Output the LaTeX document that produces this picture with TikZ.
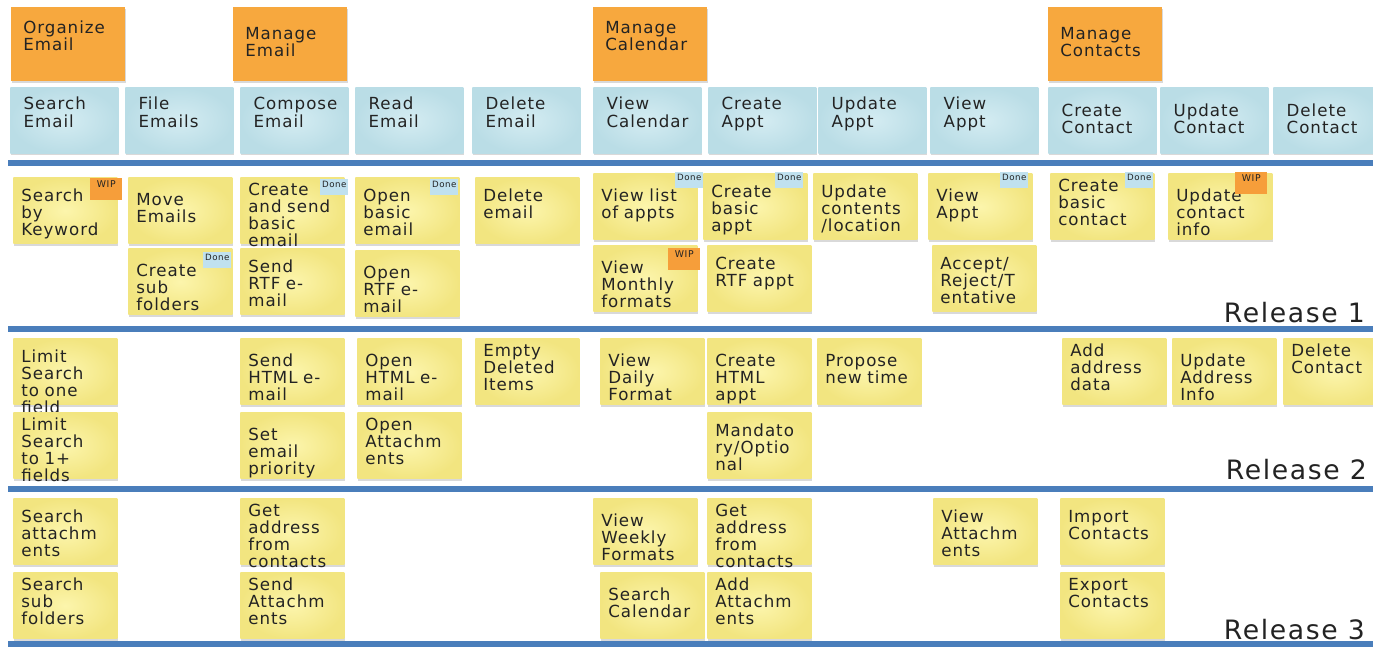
\documentclass[tikz,border=0pt]{standalone}
\usepackage{fontspec}
\usepackage{xcolor}
\usepackage{tikz}
\usetikzlibrary{shadows}
\setmainfont{DejaVu Sans}[LetterSpace=6]
\definecolor{ink}{RGB}{35,35,35}
\definecolor{notelight}{RGB}{252,245,172}
\definecolor{notedark}{RGB}{242,229,128}
\definecolor{tasklight}{RGB}{212,236,242}
\definecolor{taskdark}{RGB}{186,221,230}
\definecolor{activity}{RGB}{247,168,62}
\definecolor{donefill}{RGB}{192,225,239}
\definecolor{wipfill}{RGB}{246,158,58}
\definecolor{lineblue}{RGB}{74,126,187}
\hyphenpenalty=10000
\exhyphenpenalty=10000

\begin{document}
\begin{tikzpicture}[x=0.75pt,y=0.75pt,yscale=-1,xscale=1,
  sticky/.style={anchor=north west, align=left, inner ysep=5pt, text=ink,
    font=\fontsize{12.5}{12.8}\selectfont,
    drop shadow={shadow xshift=0.4pt, shadow yshift=-1.6pt, opacity=0.3}},
  ynote/.style={sticky, inner color=notelight, outer color=notedark,
    inner xsep=6pt, text width=66pt, text height=13pt, text depth=27pt},
  ylow/.style={text height=16pt, text depth=24pt},
  yhigh/.style={text height=8.5pt, text depth=31.5pt},
  tnote/.style={sticky, inner color=tasklight, outer color=taskdark,
    inner xsep=10pt, text width=61pt, text height=12pt, text depth=27.5pt},
  tlow/.style={text height=17pt, text depth=22.5pt},
  anote/.style={sticky, fill=activity, inner xsep=9pt, text width=67.5pt,
    text height=14.5pt, text depth=30.5pt},
  alow/.style={text height=19pt, text depth=26pt},
  donetag/.style={anchor=north west, fill=donefill, text=ink, inner sep=1.2pt,
    minimum width=21pt, text height=5pt, text depth=4.6pt,
    font=\fontsize{6.5}{6.5}\selectfont},
  wiptag/.style={anchor=north west, fill=wipfill, text=ink, inner sep=1.2pt,
    minimum width=24pt, text height=5.5pt, text depth=8.1pt,
    font=\fontsize{7}{7}\selectfont},
  rline/.style={draw=lineblue, line width=4.5pt},
  rlabel/.style={anchor=east, inner sep=0pt, text=ink,
    font=\fontsize{20}{20}\selectfont}]
\useasboundingbox (0,0) rectangle (1373,647);

%Activities
\node[anote] (a1) at (11,7) {Organize\\Email};
\node[anote, alow] (a2) at (233,7) {Manage\\Email};
\node[anote] (a3) at (593,7) {Manage\\Calendar};
\node[anote, alow] (a4) at (1048,7) {Manage\\Contacts};

%Tasks
\node[tnote] (t1) at (10,87) {Search\\Email};
\node[tnote] (t2) at (125,87) {File\\Emails};
\node[tnote] (t3) at (240,87) {Compose\\Email};
\node[tnote] (t4) at (355,87) {Read\\Email};
\node[tnote] (t5) at (472,87) {Delete\\Email};
\node[tnote] (t6) at (593,87) {View\\Calendar};
\node[tnote] (t7) at (708,87) {Create\\Appt};
\node[tnote] (t8) at (818,87) {Update\\Appt};
\node[tnote] (t9) at (930,87) {View\\Appt};
\node[tnote, tlow] (t10) at (1048,87) {Create\\Contact};
\node[tnote, tlow] (t11) at (1160,87) {Update\\Contact};
\node[tnote, tlow] (t12) at (1273,87) {Delete\\Contact};

%Release lines
\draw[rline] (8,163) -- (1373,163);
\draw[rline] (8,329) -- (1373,329);
\draw[rline] (8,489) -- (1373,489);
\draw[rline] (8,644) -- (1373,644);

%Release 1
\node[ynote] (r1c1a) at (13,177) {Search\\by\\Keyword};
\node[ynote, ylow] (r1c2a) at (128,177) {Move\\Emails};
\node[ynote, ylow] (r1c2b) at (128,248) {Create\\sub\\folders};
\node[ynote, yhigh] (r1c3a) at (240,177) {Create\\and~send\\basic\\email};
\node[ynote] (r1c3b) at (240,248) {Send\\RTF~e-\\mail};
\node[ynote] (r1c4a) at (355,177) {Open\\basic\\email};
\node[ynote, ylow] (r1c4b) at (355,250) {Open\\RTF~e-\\mail};
\node[ynote] (r1c5a) at (475,177) {Delete\\email};
\node[ynote, ylow] (r1c6a) at (593,173) {View~list\\of~appts};
\node[ynote, ylow] (r1c6b) at (593,245) {View\\Monthly\\formats};
\node[ynote] (r1c7a) at (703,173) {Create\\basic\\appt};
\node[ynote] (r1c7b) at (707,245) {Create\\RTF~appt};
\node[ynote] (r1c8a) at (813,173) {Update\\contents\\/location};
\node[ynote, ylow] (r1c9a) at (928,173) {View\\Appt};
\node[ynote] (r1c9b) at (932,245) {Accept/\\Reject/T\\entative};
\node[ynote, yhigh] (r1c10a) at (1050,173) {Create\\basic\\contact};
\node[ynote, ylow] (r1c11a) at (1168,173) {Update\\contact\\info};

%Status tags
\node[wiptag] (w1) at (90,178) {WIP};
\node[donetag] (d1) at (203,252) {Done};
\node[donetag] (d2) at (320,179) {Done};
\node[donetag] (d3) at (430,179) {Done};
\node[donetag] (d4) at (675,172) {Done};
\node[wiptag] (w2) at (668,248) {WIP};
\node[donetag] (d5) at (775,172) {Done};
\node[donetag] (d6) at (1000,172) {Done};
\node[donetag] (d7) at (1125,172) {Done};
\node[wiptag] (w3) at (1235,172) {WIP};

\node[rlabel] (rel1) at (1365,313) {Release 1};

%Release 2
\node[ynote] (r2c1a) at (13,338) {Limit\\Search\\to~one\\field};
\node[ynote, yhigh] (r2c1b) at (13,412) {Limit\\Search\\to~1+\\fields};
\node[ynote, ylow] (r2c3a) at (240,338) {Send\\HTML~e-\\mail};
\node[ynote, ylow] (r2c3b) at (240,412) {Set\\email\\priority};
\node[ynote, ylow] (r2c4a) at (357,338) {Open\\HTML~e-\\mail};
\node[ynote, yhigh] (r2c4b) at (357,412) {Open\\Attachm\\ents};
\node[ynote, yhigh] (r2c5a) at (475,338) {Empty\\Deleted\\Items};
\node[ynote, ylow] (r2c6a) at (600,338) {View\\Daily\\Format};
\node[ynote, ylow] (r2c7a) at (707,338) {Create\\HTML\\appt};
\node[ynote] (r2c7b) at (707,412) {Mandato\\ry/Optio\\nal};
\node[ynote, ylow] (r2c8a) at (817,338) {Propose\\new~time};
\node[ynote, yhigh] (r2c10a) at (1062,338) {Add\\address\\data};
\node[ynote, ylow] (r2c11a) at (1172,338) {Update\\Address\\Info};
\node[ynote, yhigh] (r2c12a) at (1283,338) {Delete\\Contact};

\node[rlabel] (rel2) at (1367,470) {Release 2};

%Release 3
\node[ynote] (r3c1a) at (13,498) {Search\\attachm\\ents};
\node[ynote, yhigh] (r3c1b) at (13,572) {Search\\sub\\folders};
\node[ynote, yhigh] (r3c3a) at (240,498) {Get\\address\\from\\contacts};
\node[ynote, yhigh] (r3c3b) at (240,572) {Send\\Attachm\\ents};
\node[ynote, ylow] (r3c6a) at (593,498) {View\\Weekly\\Formats};
\node[ynote, ylow] (r3c6b) at (600,572) {Search\\Calendar};
\node[ynote, yhigh] (r3c7a) at (707,498) {Get\\address\\from\\contacts};
\node[ynote, yhigh] (r3c7b) at (707,572) {Add\\Attachm\\ents};
\node[ynote] (r3c9a) at (933,498) {View\\Attachm\\ents};
\node[ynote] (r3c10a) at (1060,498) {Import\\Contacts};
\node[ynote, yhigh] (r3c10b) at (1060,572) {Export\\Contacts};

\node[rlabel] (rel3) at (1365,630) {Release 3};

\end{tikzpicture}
\end{document}
